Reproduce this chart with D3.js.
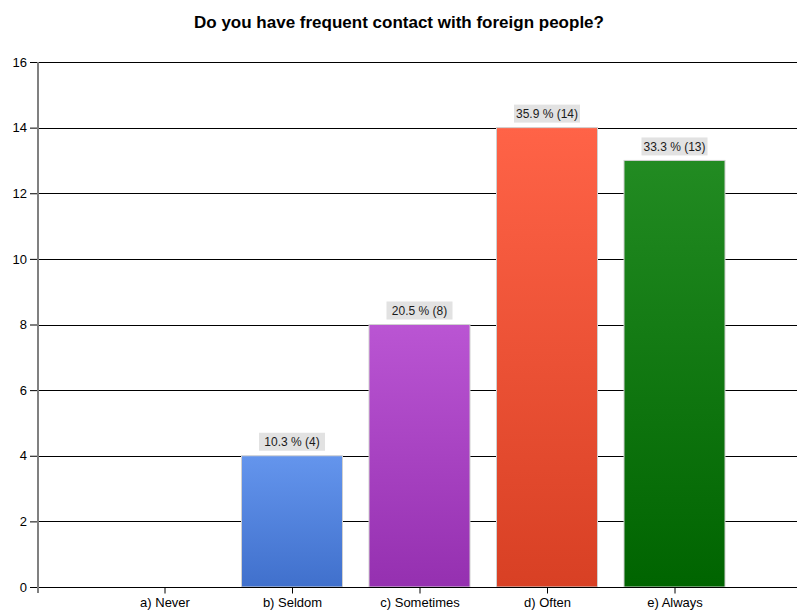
<!DOCTYPE html>
<html>
<head>
<meta charset="utf-8">
<script src="https://cdn.jsdelivr.net/npm/d3@7"></script>
<style>
  html, body { margin: 0; padding: 0; background: #fff; }
  svg { display: block; font-family: "Liberation Sans", Arial, sans-serif; }
</style>
</head>
<body>
<svg id="chart" width="797" height="610"></svg>
<script>
// Survey answers: "Do you have frequent contact with foreign people?"
const categories = ["a) Never", "b) Seldom", "c) Sometimes", "d) Often", "e) Always"];
const counts = [0, 4, 8, 14, 13];
const percents = [0, 10.3, 20.5, 35.9, 33.3];
const yTicks = [0, 2, 4, 6, 8, 10, 12, 14, 16];
const topColors = ["#6a9cf0", "#6495ed", "#ba55d3", "#ff6347", "#228b22"];
const bottomColors = ["#4070d0", "#4070cc", "#9530b0", "#d84024", "#006400"];

const svg = d3.select("#chart");
const W = 797, H = 610;
const plotLeft = 37, plotTop = 62, plotBottom = 587;
const step = 127.5;

// Category positions sit on whole-number slots 1..5; slot 0 is the axis itself
const x = d3.scaleLinear().domain([0, 6]).range([plotLeft, plotLeft + 6 * step]);
const y = d3.scaleLinear().domain([0, 16]).range([plotBottom, plotTop]);
const barW = 101;

// Title
svg.append("text")
  .attr("x", 399).attr("y", 28)
  .attr("text-anchor", "middle")
  .attr("font-size", 17).attr("font-weight", "bold")
  .attr("fill", "#000")
  .text("Do you have frequent contact with foreign people?");

// Gradients
const defs = svg.append("defs");
categories.forEach((c, i) => {
  const g = defs.append("linearGradient")
    .attr("id", "grad" + i)
    .attr("x1", 0).attr("y1", 0).attr("x2", 0).attr("y2", 1);
  g.append("stop").attr("offset", "0%").attr("stop-color", topColors[i]);
  g.append("stop").attr("offset", "100%").attr("stop-color", bottomColors[i]);
});

// Horizontal gridlines
svg.append("g")
  .selectAll("line")
  .data(yTicks.filter(t => t > 0))
  .join("line")
  .attr("x1", plotLeft).attr("x2", W)
  .attr("y1", d => Math.round(y(d)) + 0.5).attr("y2", d => Math.round(y(d)) + 0.5)
  .attr("stroke", "#000").attr("stroke-width", 1);

// Y axis
const yAxis = d3.axisLeft(y).tickValues(yTicks).tickSize(7).tickPadding(3)
  .tickFormat(d3.format("d"));
const gy = svg.append("g").attr("transform", `translate(${plotLeft},0)`).call(yAxis);
gy.select(".domain").remove();
gy.selectAll(".tick line").attr("stroke", "#000");
gy.selectAll(".tick text")
  .attr("font-size", 13).attr("fill", "#000")
  .attr("font-family", "'Liberation Sans', Arial, sans-serif");

// Bars
const slots = categories.map((c, i) => i + 1);
const barData = counts.map((v, i) => ({ v, i })).filter(d => d.v > 0);
svg.append("g")
  .selectAll("rect")
  .data(barData)
  .join("rect")
  .attr("x", d => x(slots[d.i]) - barW / 2)
  .attr("y", d => y(d.v))
  .attr("width", barW)
  .attr("height", d => y(0) - y(d.v))
  .attr("fill", d => `url(#grad${d.i})`)
  .attr("stroke", "#d0d0d0").attr("stroke-width", 1);

// Value labels
const labels = svg.append("g")
  .selectAll("g")
  .data(barData)
  .join("g")
  .attr("transform", d => `translate(${x(slots[d.i])},${y(d.v) - 4})`);
labels.append("rect")
  .attr("x", -33).attr("y", -19)
  .attr("width", 66).attr("height", 18)
  .attr("fill", "#e2e2e2");
labels.append("text")
  .attr("x", 0).attr("y", -5.5)
  .attr("text-anchor", "middle")
  .attr("font-size", 12).attr("fill", "#1a1a1a")
  .text(d => `${percents[d.i].toFixed(1)} % (${d.v})`);

// X axis
const xAxis = d3.axisBottom(x).tickValues(slots).tickSize(6).tickPadding(4)
  .tickFormat((d, i) => categories[i]);
const gx = svg.append("g").attr("transform", `translate(0,${plotBottom + 0.5})`).call(xAxis);
gx.select(".domain").remove();
gx.selectAll(".tick line").attr("stroke", "#000");
gx.selectAll(".tick text")
  .attr("font-size", 13).attr("fill", "#000")
  .attr("font-family", "'Liberation Sans', Arial, sans-serif");
svg.append("line")
  .attr("x1", plotLeft).attr("x2", W)
  .attr("y1", plotBottom + 0.5).attr("y2", plotBottom + 0.5)
  .attr("stroke", "#000");
// origin tick below the axis
svg.append("line")
  .attr("x1", plotLeft + 0.5).attr("x2", plotLeft + 0.5)
  .attr("y1", plotBottom).attr("y2", plotBottom + 6)
  .attr("stroke", "#000");

// Y axis line (grey)
svg.append("line")
  .attr("x1", plotLeft + 1).attr("x2", plotLeft + 1)
  .attr("y1", plotTop).attr("y2", plotBottom + 6)
  .attr("stroke", "#808080").attr("stroke-width", 2);
</script>
</body>
</html>
